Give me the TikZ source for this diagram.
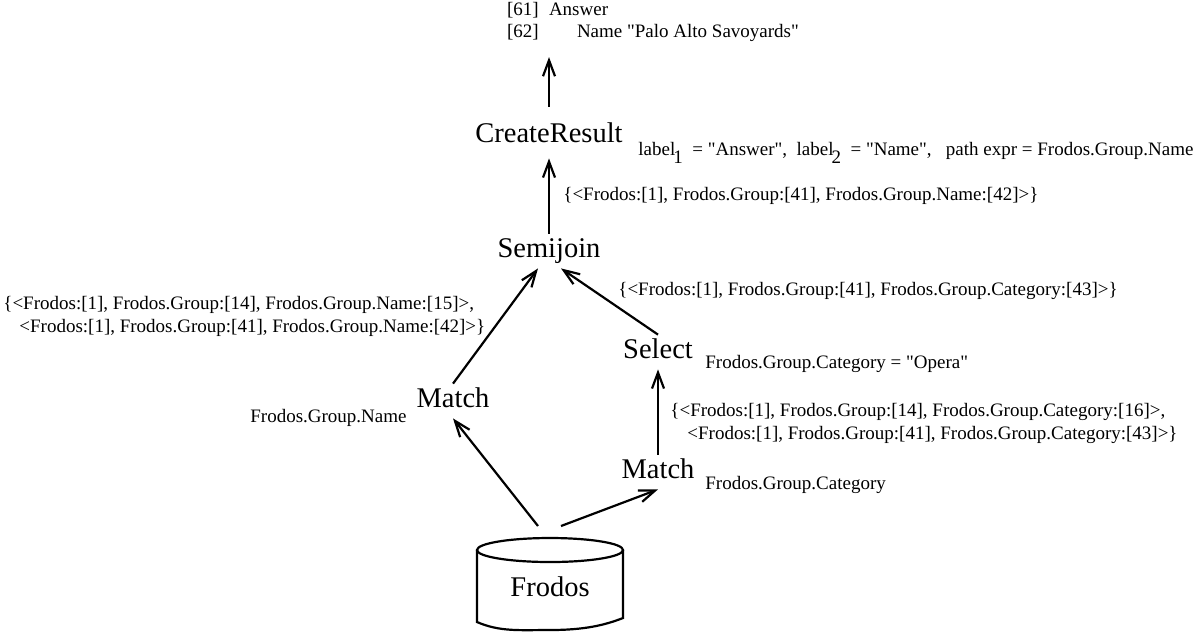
\documentclass[tikz,border=0pt]{standalone}
\usepackage{fontspec}
\setmainfont{Liberation Serif}[Ligatures=TeXOff]
\usetikzlibrary{arrows.meta}

\begin{document}
\begin{tikzpicture}[x=0.5pt,y=-0.5pt,
  op/.style={font=\fontsize{14.25}{16}\selectfont, inner sep=0pt, text height=11.5pt, text depth=5.5pt, anchor=base},
  note/.style={font=\fontsize{9.5}{11.5}\selectfont, inner sep=0pt, anchor=base west, align=left},
  flow/.style={-{Straight Barb[length=8pt,width=6pt]}, line width=1.1pt}]
\useasboundingbox (0,0) rectangle (1202,634);
% operators of the plan
\node[op] (create)   at (549,142) {CreateResult};
\node[op] (semijoin) at (549,257) {Semijoin};
\node[op] (select)   at (658,358) {Select};
\node[op] (matchL)   at (453,407) {Match};
\node[op] (matchR)   at (658,478) {Match};
% database
\draw[line width=1.1pt] (550,550) ellipse [x radius=73, y radius=12];
\draw[line width=1.1pt] (477,550) -- (477,622)
  .. controls (500,632) and (520,630) .. (550,630)
  .. controls (585,630) and (605,625) .. (623,618) -- (623,550);
\node[op] (frodos) at (550,596) {Frodos};
\coordinate (dbleft)  at (538,526);
\coordinate (dbright) at (561,526);
% result (base = last line)
\node[note, font=\fontsize{9.5}{11}\selectfont, outer xsep=0pt, outer ysep=8pt] (out) at (507,37)
  {\makebox[21pt][l]{[61]}Answer\\\makebox[35pt][l]{[62]}Name "Palo Alto Savoyards"};
% parameters and intermediate results
\node[note] (createpar) at (638,155)
  {label\kern-1pt\raisebox{-4pt}{1}\ \ = "Answer",\ \ label\kern-1pt\raisebox{-4pt}{2}\ \ = "Name",\ \ \ path expr = Frodos.Group.Name};
\node[note] (semires) at (563,200) {\{<Frodos:[1], Frodos.Group:[41], Frodos.Group.Name:[42]>\}};
\node[note] (selres) at (618,295) {\{<Frodos:[1], Frodos.Group:[41], Frodos.Group.Category:[43]>\}};
\node[note] (matchLres) at (3,332)
  {\{<Frodos:[1], Frodos.Group:[14], Frodos.Group.Name:[15]>,\\\hspace*{8pt}<Frodos:[1], Frodos.Group:[41], Frodos.Group.Name:[42]>\}};
\node[note] (selpar) at (705,368) {Frodos.Group.Category = "Opera"};
\node[note] (matchLpar) at (250,422) {Frodos.Group.Name};
\node[note] (matchRres) at (670,439)
  {\{<Frodos:[1], Frodos.Group:[14], Frodos.Group.Category:[16]>,\\\hspace*{8.5pt}<Frodos:[1], Frodos.Group:[41], Frodos.Group.Category:[43]>\}};
\node[note] (matchRpar) at (705,489) {Frodos.Group.Category};
% data flow
\draw[flow] ([yshift=6pt]create.north) -- (create.north |- out.south);
\draw[flow] (semijoin.north) -- ([yshift=-2.5pt]create.south);
\draw[flow] (matchL.north) -- ([xshift=-5.5pt]semijoin.south);
\draw[flow] (select.north) -- ([xshift=6pt]semijoin.south);
\draw[flow] (matchR.north) -- (select.south);
\draw[flow] (dbleft) -- (matchL.south);
\draw[flow] (dbright) -- (matchR.south);
\end{tikzpicture}
\end{document}
